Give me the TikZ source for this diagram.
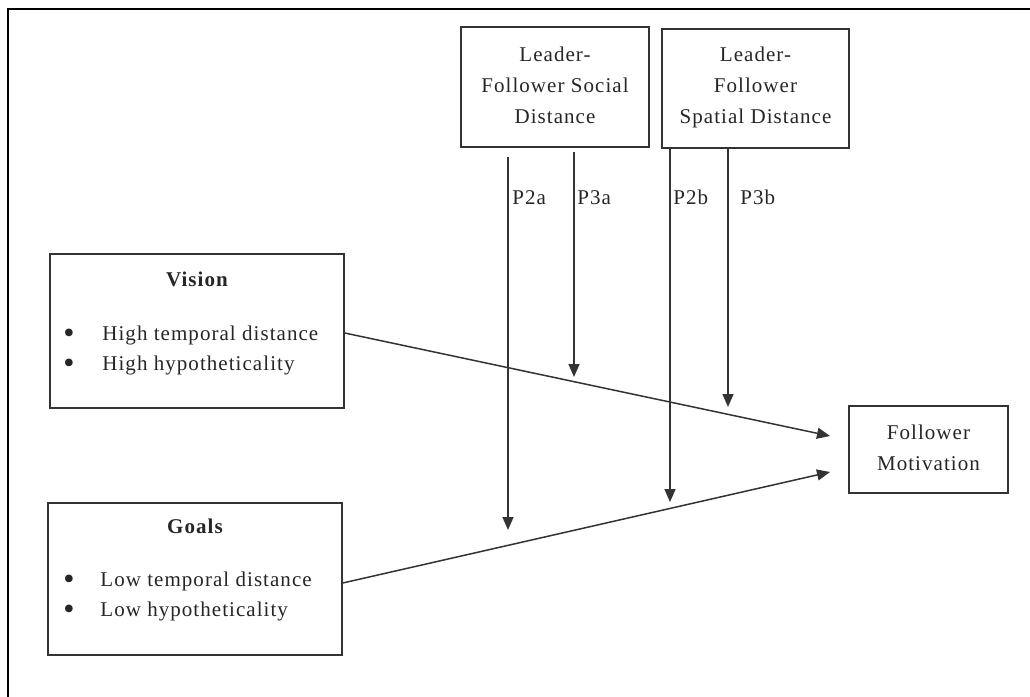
\documentclass[tikz,border=0pt]{standalone}
\usepackage{fontspec}
\setmainfont{Liberation Serif}[LetterSpace=5]
\usetikzlibrary{arrows.meta}
\begin{document}
\begin{tikzpicture}[x=0.5pt,y=-0.5pt,
  box/.style={draw=black!80, line width=0.75pt, inner sep=0, fill=white},
  lbl/.style={anchor=base, inner sep=0, text=black!85, font=\fontsize{10.5}{15.5}\selectfont},
  lblw/.style={lbl, anchor=base west},
  bul/.style={lbl, font=\fontsize{16}{16}\selectfont},
  conn/.style={draw=black!80, line width=0.75pt, -{Triangle[length=6.5pt,width=5.5pt]}}]
\useasboundingbox (0,0) rectangle (1030,697);
% outer frame
\coordinate (fbl) at (8,697);
\coordinate (ftl) at (8,9);
\coordinate (ftr) at (1030,9);
\draw[line width=1pt, black] (fbl) -- (ftl) -- (ftr);

% boxes
\node[box, minimum width=94pt, minimum height=60pt] (social) at (555,87) {};
\node[box, minimum width=93.5pt, minimum height=59.5pt] (spatial) at (755.5,88.5) {};
\node[box, minimum width=147pt, minimum height=77pt] (vision) at (197,331) {};
\node[box, minimum width=147pt, minimum height=76pt] (goals) at (195,579) {};
\node[box, minimum width=79.5pt, minimum height=43.5pt] (fm) at (928.5,449.5) {};

% box texts
\node[lbl] (s1) at (555,61) {Leader-};
\node[lbl] (s2) at (555,92) {Follower Social};
\node[lbl] (s3) at (555,123) {Distance};
\node[lbl] (t1) at (755.5,61) {Leader-};
\node[lbl] (t2) at (755.5,92) {Follower};
\node[lbl] (t3) at (755.5,123) {Spatial Distance};
\node[lbl] (f1) at (928.5,439) {Follower};
\node[lbl] (f2) at (928.5,470) {Motivation};

\node[lbl, font=\fontsize{10.5}{15.5}\selectfont\bfseries] (vt) at (197,286) {Vision};
\node[bul] (vb1) at (69,343) {\smash{\textbullet}};
\node[bul] (vb2) at (69,373) {\smash{\textbullet}};
\node[lblw] (v1) at (102,340) {High temporal distance};
\node[lblw] (v2) at (102,370) {High hypotheticality};

\node[lbl, font=\fontsize{10.5}{15.5}\selectfont\bfseries] (gt) at (195,533) {Goals};
\node[bul] (gb1) at (69,589) {\smash{\textbullet}};
\node[bul] (gb2) at (69,619) {\smash{\textbullet}};
\node[lblw] (g1) at (100,586) {Low temporal distance};
\node[lblw] (g2) at (100,616) {Low hypotheticality};

% moderator arrows
\coordinate (p2a0) at (508,157); \coordinate (p2a1) at (508,530);
\coordinate (p3a0) at (574,152); \coordinate (p3a1) at (574,377);
\coordinate (p2b0) at (670,148); \coordinate (p2b1) at (670,502);
\coordinate (p3b0) at (728,148); \coordinate (p3b1) at (728,407);
\draw[conn] (p2a0) -- (p2a1);
\draw[conn] (p3a0) -- (p3a1);
\draw[conn] (p2b0) -- (p2b1);
\draw[conn] (p3b0) -- (p3b1);
\node[lblw] (lp2a) at (512,204) {P2a};
\node[lblw] (lp3a) at (577,204) {P3a};
\node[lblw] (lp2b) at (673,204) {P2b};
\node[lblw] (lp3b) at (740,204) {P3b};

% main arrows
\coordinate (vend) at (830,436);
\coordinate (gend) at (830,472);
\draw[conn] ([yshift=-1pt]vision.east) -- (vend);
\draw[conn] ([yshift=-2pt]goals.east) -- (gend);
\end{tikzpicture}
\end{document}
